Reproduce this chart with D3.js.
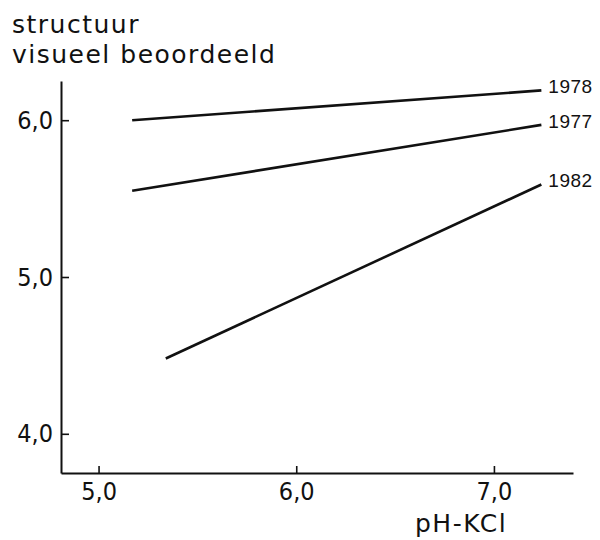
<!DOCTYPE html>
<html>
<head>
<meta charset="utf-8">
<script src="https://cdn.jsdelivr.net/npm/d3@7"></script>
<style>
  body { margin: 0; background: #fff; }
  svg { display: block; }
  text { fill: #111; }
  .title { font-family: "DejaVu Sans", sans-serif; font-size: 25px; letter-spacing: 1.5px; }
  .tick text { font-family: "DejaVu Sans Condensed", "Liberation Sans", sans-serif; font-size: 25px; }
  .year { font-family: "Liberation Sans", sans-serif; font-size: 19px; letter-spacing: 0.5px; }
</style>
</head>
<body>
<div id="chart"></div>
<script>
// data
const years = ["1978", "1977", "1982"];
const phStart = [5.17, 5.17, 5.34];
const phEnd = [7.24, 7.24, 7.24];
const structStart = [6.0, 5.55, 4.48];
const structEnd = [6.19, 5.97, 5.59];
const xTicks = [5.0, 6.0, 7.0];
const yTicks = [4.0, 5.0, 6.0];

const width = 600, height = 540;
const fmt = d => d.toFixed(1).replace(".", ",");

const svg = d3.select("#chart").append("svg")
    .attr("width", width)
    .attr("height", height);

const x = d3.scaleLinear().domain([4.81, 7.4]).range([61, 573]);
const y = d3.scaleLinear().domain([3.75, 6.25]).range([473, 81]);

// axes, ticks point inward
const xAxis = d3.axisBottom(x)
    .tickValues(xTicks)
    .tickFormat(fmt)
    .tickSizeInner(-7)
    .tickSizeOuter(0)
    .tickPadding(8);

const yAxis = d3.axisLeft(y)
    .tickValues(yTicks)
    .tickFormat(fmt)
    .tickSizeInner(-8)
    .tickSizeOuter(0)
    .tickPadding(8);

const gx = svg.append("g")
    .attr("transform", `translate(0, ${y.range()[0]})`)
    .call(xAxis);

const gy = svg.append("g")
    .attr("transform", `translate(${x.range()[0]}, 0)`)
    .call(yAxis);

[gx, gy].forEach(g => {
    g.select(".domain").attr("stroke", "#111").attr("stroke-width", 2);
    g.selectAll(".tick line").attr("stroke", "#111").attr("stroke-width", 1.6);
    g.attr("font-family", null).attr("font-size", null);
});
gx.selectAll(".tick text").attr("dy", "0.74em");

// regression lines
const rows = years.map((yr, i) => ({
    year: yr, x1: phStart[i], x2: phEnd[i], y1: structStart[i], y2: structEnd[i]
}));

svg.selectAll("line.trend")
    .data(rows)
    .enter()
    .append("line")
    .attr("class", "trend")
    .attr("x1", d => x(d.x1))
    .attr("y1", d => y(d.y1))
    .attr("x2", d => x(d.x2))
    .attr("y2", d => y(d.y2))
    .attr("stroke", "#111")
    .attr("stroke-width", 2.6);

svg.selectAll("text.year")
    .data(rows)
    .enter()
    .append("text")
    .attr("class", "year")
    .attr("x", d => x(d.x2) + 7)
    .attr("y", d => y(d.y2) - 4)
    .attr("dy", "0.35em")
    .text(d => d.year);

// axis titles
svg.append("text").attr("class", "title").attr("x", 12).attr("y", 33).text("structuur");
svg.append("text").attr("class", "title").attr("x", 12).attr("y", 63).text("visueel beoordeeld");
svg.append("text").attr("class", "title").attr("x", 415).attr("y", 532).text("pH-KCl");
</script>
</body>
</html>
